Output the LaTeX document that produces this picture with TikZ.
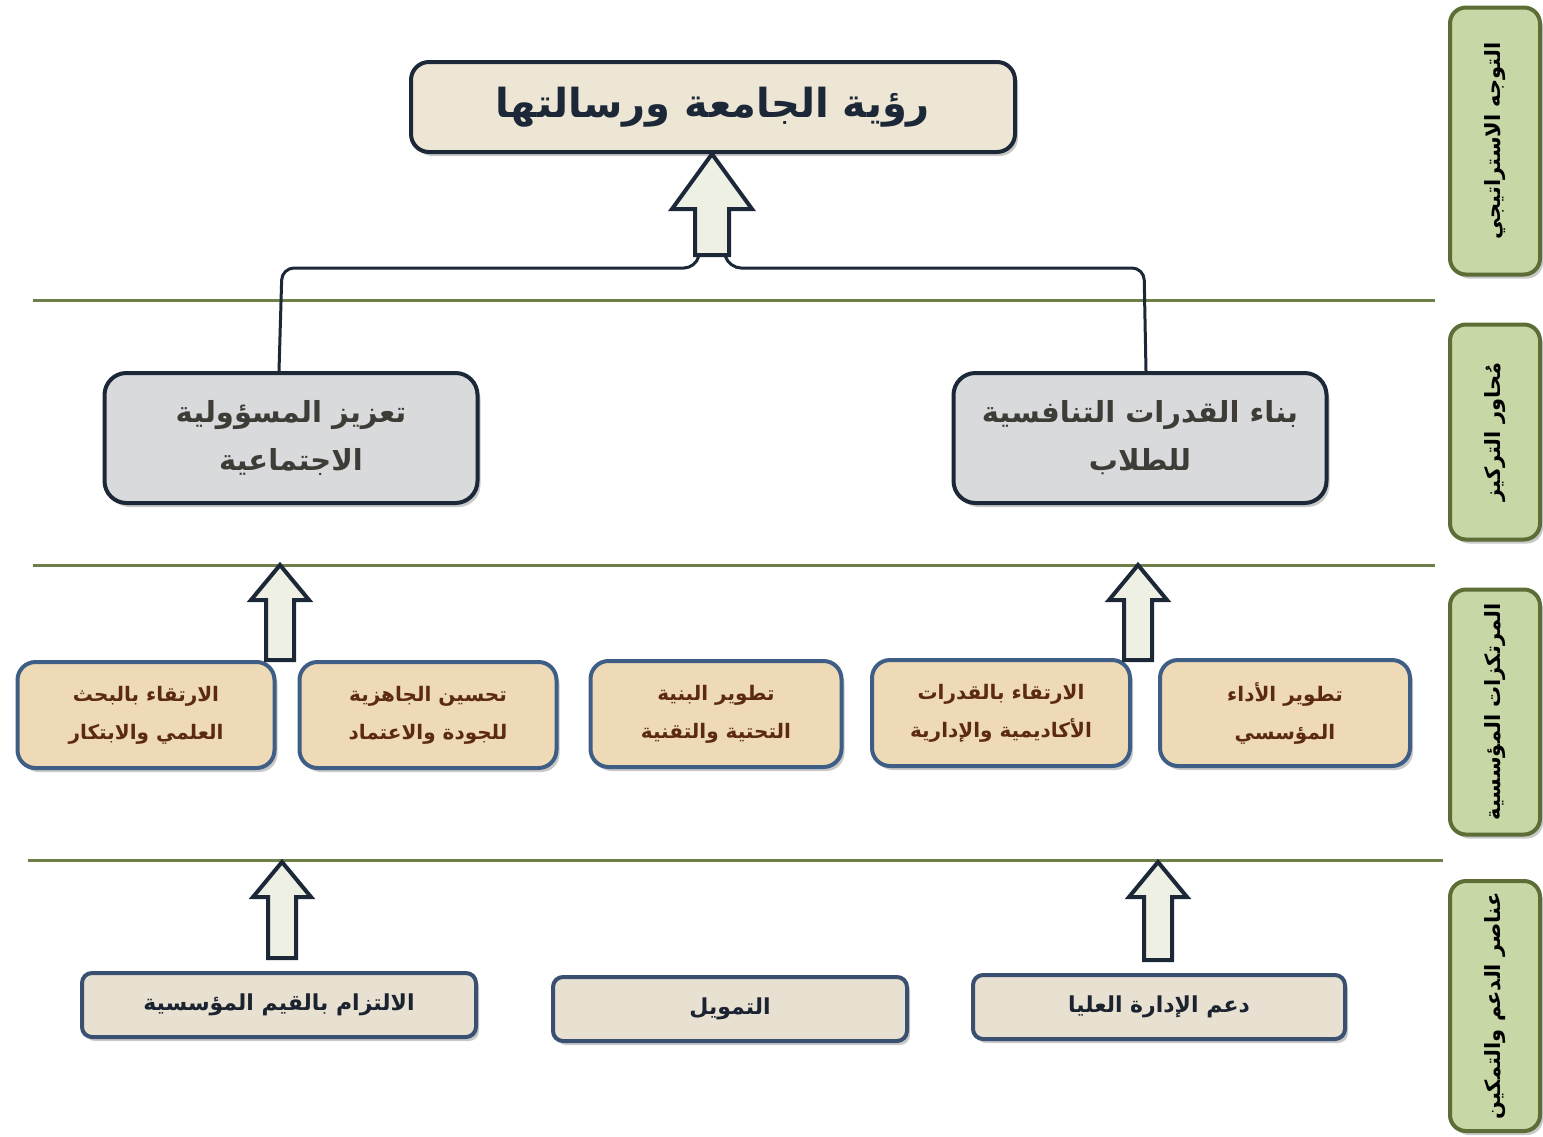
\documentclass[tikz,border=0pt]{standalone}
\usepackage{fontspec}
\usetikzlibrary{shadows,calc}
\TeXXeTstate=1
\newfontfamily\arabicfont[Script=Arabic]{DejaVu Sans}
\newcommand\ar[1]{\beginR #1\endR}
\definecolor{navy}{HTML}{1C2838}
\definecolor{topfill}{HTML}{EEE6D4}
\definecolor{grayfill}{HTML}{D9DADC}
\definecolor{graytext}{HTML}{3E3C36}
\definecolor{midline}{HTML}{3F5E86}
\definecolor{midfill}{HTML}{EEDAB6}
\definecolor{midtext}{HTML}{5C2A14}
\definecolor{botline}{HTML}{3A5070}
\definecolor{botfill}{HTML}{E8E1D1}
\definecolor{bottext}{HTML}{1B2230}
\definecolor{sepgreen}{HTML}{6E7F4A}
\definecolor{sidefill}{HTML}{C8D7A6}
\definecolor{sideline}{HTML}{5C6E36}
\definecolor{arrowfill}{HTML}{EEF0E4}
\newcommand\blockup[5]{%
  \draw[blockarrow] let \p1=(#1), \p2=(#2) in
    (\x1-#3pt,\y1) -- (\x1-#3pt,\y2-#5pt) -- (\x1-#4pt,\y2-#5pt) -- (\x1,\y2)
    -- (\x1+#4pt,\y2-#5pt) -- (\x1+#3pt,\y2-#5pt) -- (\x1+#3pt,\y1) -- cycle;}
\tikzset{
  softshadow/.style={drop shadow={shadow xshift=3pt,shadow yshift=-4pt,opacity=0.3,fill=black!70}},
  visionbox/.style={draw=navy,line width=4pt,rounded corners=18pt,fill=topfill,softshadow,
    minimum width=604pt,minimum height=90pt,text=navy,
    font=\arabicfont\bfseries\fontsize{40}{44}\selectfont},
  axisbox/.style={draw=navy,line width=4pt,rounded corners=22pt,fill=grayfill,softshadow,
    minimum width=373pt,minimum height=130pt,text=graytext,align=center,
    font=\arabicfont\bfseries\fontsize{29}{48}\selectfont},
  pillarbox/.style={draw=midline,line width=4pt,rounded corners=18pt,fill=midfill,softshadow,
    minimum height=106pt,text=midtext,align=center,
    font=\arabicfont\bfseries\fontsize{20}{38}\selectfont},
  supportbox/.style={draw=botline,line width=4pt,rounded corners=10pt,fill=botfill,softshadow,
    minimum height=64pt,text=bottext,
    font=\arabicfont\bfseries\fontsize{22}{26}\selectfont},
  sidebox/.style={draw=sideline,line width=4pt,rounded corners=16pt,fill=sidefill,softshadow,
    minimum width=90pt},
  sidetext/.style={rotate=90,text=black,font=\arabicfont\bfseries\fontsize{21}{25}\selectfont},
  sepline/.style={draw=sepgreen,line width=3pt},
  conn/.style={draw=navy,line width=3pt,rounded corners=12pt},
  blockarrow/.style={draw=navy,line width=4pt,fill=arrowfill,line join=miter}
}
\begin{document}
\begin{tikzpicture}[x=1pt,y=-1pt]
\useasboundingbox (0,0) rectangle (1543,1136);
% separator lines
\coordinate (l1a) at (33,300);  \coordinate (l1b) at (1435,300);
\coordinate (l2a) at (33,565);  \coordinate (l2b) at (1435,565);
\coordinate (l3a) at (28,860);  \coordinate (l3b) at (1443,860);
\draw[sepline] (l1a) -- (l1b);
\draw[sepline] (l2a) -- (l2b);
\draw[sepline] (l3a) -- (l3b);
% side labels
\node[sidebox,minimum height=267pt] (s1) at (1495,141) {};
\node[sidetext] (s1t) at (s1) {\ar{التوجه الاستراتيجي}};
\node[sidebox,minimum height=215pt] (s2) at (1495,432) {};
\node[sidetext] (s2t) at (s2) {\ar{مُحاور التركيز}};
\node[sidebox,minimum height=245pt] (s3) at (1495,712) {};
\node[sidetext] (s3t) at (s3) {\ar{المرتكزات المؤسسية}};
\node[sidebox,minimum height=250pt] (s4) at (1495,1006) {};
\node[sidetext] (s4t) at (s4) {\ar{عناصر الدعم والتمكين}};
% vision
\node[visionbox] (vision) at (713,107) {\ar{رؤية الجامعة ورسالتها}};
% axes
\node[axisbox] (soc) at (291,438) {\ar{تعزيز المسؤولية}\\\ar{الاجتماعية}};
\node[axisbox] (comp) at (1140,438) {\ar{بناء القدرات التنافسية}\\\ar{للطلاب}};
% pillars
\node[pillarbox,minimum width=257pt] (m1) at (146,715) {\ar{الارتقاء بالبحث}\\\ar{العلمي والابتكار}};
\node[pillarbox,minimum width=257pt] (m2) at (428,715) {\ar{تحسين الجاهزية}\\\ar{للجودة والاعتماد}};
\node[pillarbox,minimum width=251pt] (m3) at (716,714) {\ar{تطوير البنية}\\\ar{التحتية والتقنية}};
\node[pillarbox,minimum width=258pt] (m4) at (1001,713) {\ar{الارتقاء بالقدرات}\\\ar{الأكاديمية والإدارية}};
\node[pillarbox,minimum width=250pt] (m5) at (1285,713) {\ar{تطوير الأداء}\\\ar{المؤسسي}};
% support
\node[supportbox,minimum width=394pt] (b1) at (279,1005) {\ar{الالتزام بالقيم المؤسسية}};
\node[supportbox,minimum width=354pt] (b2) at (730,1009) {\ar{التمويل}};
\node[supportbox,minimum width=372pt] (b3) at (1159,1007) {\ar{دعم الإدارة العليا}};
% bracket from axes to vision arrow
\coordinate (ta) at (712,255);
\coordinate (brL) at (282,268);
\coordinate (brR) at (1144,268);
\draw[conn] ([xshift=-12pt]soc.north) -- (brL) -- (696,268) -- ([xshift=-13pt]ta);
\draw[conn] ([xshift=6pt]comp.north) -- (brR) -- (729,268) -- ([xshift=13pt]ta);
% block arrows
\blockup{ta}{vision.south}{17}{40}{55}
\coordinate (amL0) at (280,660); \coordinate (amL1) at (280,565);
\coordinate (amR0) at (1138,660); \coordinate (amR1) at (1138,565);
\coordinate (abL0) at (282,958); \coordinate (abL1) at (282,862);
\coordinate (abR0) at (1158,960); \coordinate (abR1) at (1158,862);
\blockup{amL0}{amL1}{14}{29}{35}
\blockup{amR0}{amR1}{14}{29}{35}
\blockup{abL0}{abL1}{14}{29}{35}
\blockup{abR0}{abR1}{14}{29}{35}
\end{tikzpicture}
\end{document}
